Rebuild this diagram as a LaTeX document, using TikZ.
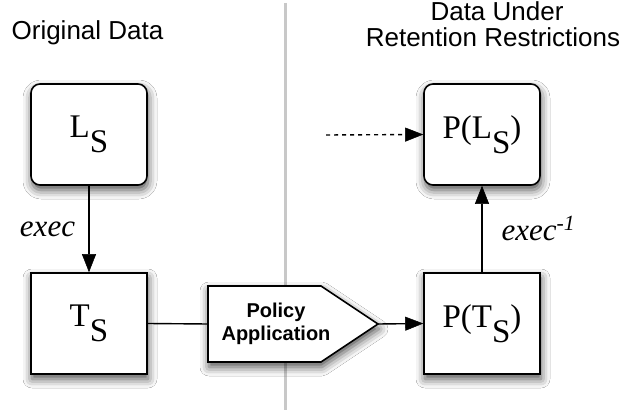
\documentclass[tikz,border=0pt]{standalone}
\usepackage{fontspec}
\setmainfont{Liberation Serif}
\newfontfamily\helv{Liberation Sans}
\usetikzlibrary{arrows.meta,shadows.blur}
\begin{document}
\begin{tikzpicture}[x=1pt,y=-1pt,
  myshadow/.style={blur shadow={shadow xshift=1pt, shadow yshift=-5pt, shadow blur radius=9pt, shadow opacity=70}},
  box/.style={draw=black, line width=1.6pt, fill=white, minimum width=116pt, minimum height=101pt, inner sep=0pt, myshadow, font=\fontsize{33}{33}\selectfont},
  rbox/.style={box, rounded corners=9pt},
  conn/.style={line width=1.4pt, draw=black},
  tipend/.style={-{Triangle[length=18pt,width=14pt,fill=black,line width=0.5pt]}},
  title/.style={font=\helv\fontsize{26}{26}\selectfont, anchor=base},
  lbl/.style={font=\itshape\fontsize{31}{31}\selectfont, anchor=base}
]
\useasboundingbox (0,0) rectangle (626,414);
\fill[white] (0,0) rectangle (626,414);
% divider
\coordinate (dtop) at (285,3);
\coordinate (dbot) at (285,410);
\draw[line width=3pt, color={rgb,255:red,200;green,200;blue,200}] (dtop) -- (dbot);
% titles
\node[title] (t1) at (87.5,40) {Original Data};
\node[title] (t2) at (497,21) {Data Under};
\node[title] (t3) at (493,47) {Retention Restrictions};
% boxes
\node[rbox] (ls) at (89,134.5) {L\raisebox{-15pt}{S}};
\node[box] (ts) at (89,323.5) {T\raisebox{-15pt}{S}};
\node[rbox] (pls) at (482,134.5) {P(L\raisebox{-15pt}{S})};
\node[box] (pts) at (482,323.5) {P(T\raisebox{-15pt}{S})};
% policy shape
\draw[line width=1.6pt, fill=white, myshadow] (208,286) -- (321,286) -- (378,324) -- (321,362) -- (208,362) -- cycle;
\node[font=\helv\bfseries\fontsize{20}{23}\selectfont, align=center] (pol) at (276,324) {Policy\\Application};
\coordinate (polin) at (208,324);
\coordinate (polout) at (378,324);
\coordinate (dotstart) at (326,135);
% connectors
\draw[conn, tipend] (ls.south) -- (ts.north);
\draw[conn] (ts.east) -- (polin);
\draw[conn, tipend] (polout) -- (pts.west);
\draw[conn, tipend] (pts.north) -- (pls.south);
\draw[conn, tipend, dash pattern=on 4pt off 4pt] (dotstart) -- (pls.west);
% labels
\node[lbl] (e1) at (47.5,236) {exec};
\node[lbl, anchor=base west] (e2) at (498,240) {exec\textsuperscript{-1}};
\end{tikzpicture}
\end{document}
